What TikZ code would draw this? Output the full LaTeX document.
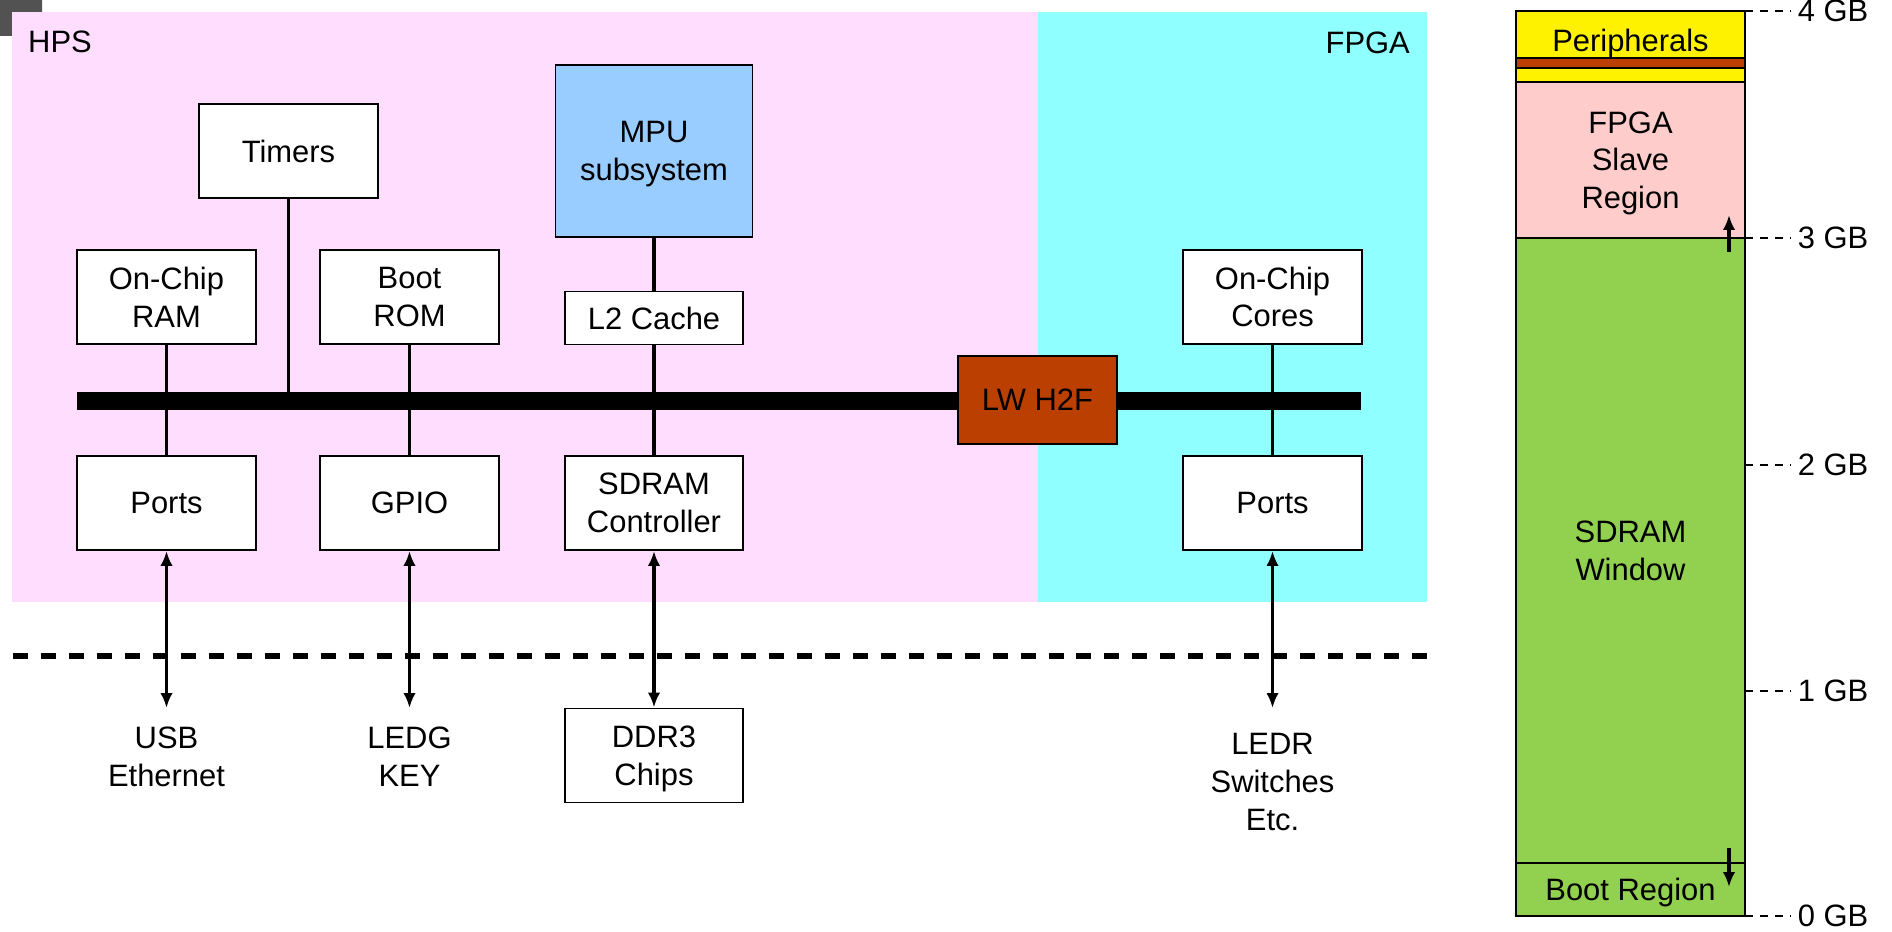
\documentclass[tikz,border=0pt]{standalone}
\usepackage{fontspec}
\setmainfont{Liberation Sans}
\usepackage{tikz}
\usetikzlibrary{arrows.meta,positioning}
\definecolor{hpspink}{RGB}{255,221,255}
\definecolor{fpgacyan}{RGB}{143,255,255}
\definecolor{mpublue}{RGB}{153,204,255}
\definecolor{bridgered}{RGB}{187,64,0}
\definecolor{slavepink}{RGB}{255,204,204}
\definecolor{sdramgreen}{RGB}{146,208,80}
\newcommand{\flatdp}[1]{\raisebox{0pt}[\height][0pt]{#1}}

\begin{document}
\begin{tikzpicture}[x=0.02cm, y=-0.02cm, >={Latex[length=0.3cm,width=0.25cm]},
    font=\fontsize{17.6}{21.5}\selectfont,
    blk/.style={draw, fill=white, line width=1.1pt, inner sep=0pt, align=center,
                minimum width=3.57cm, minimum height=1.88cm},
    wire/.style={line width=2pt},
    memreg/.style={draw, line width=1.1pt, inner sep=0pt, align=center, minimum width=4.58cm},
    gbtick/.style={line width=1.1pt, dash pattern=on 0.16cm off 0.14cm}]
  \useasboundingbox (0,0) rectangle (1892,932);
  \fill[black!68, rounded corners=0.3cm] (-20,-20) rectangle (42,36);
  % the two halves of the chip
  \fill[hpspink] (12,12) rectangle (1038,602);
  \fill[fpgacyan] (1038,12) rectangle (1427,602);
  \node[anchor=west] (hps) at (22,42) {HPS};
  \node[anchor=east] (fpga) at (1416,43) {FPGA};

  \node[fill=black, inner sep=0pt, minimum width=25.68cm, minimum height=0.36cm] (bus) at (719,401) {};

  \node[blk] (timers) at (288.5,151) {Timers};
  \node[blk, fill=mpublue, minimum width=3.94cm, minimum height=3.44cm] (mpu) at (654,151) {MPU\\\flatdp{subsystem}};
  \node[blk] (ram) at (166.5,297) {On-Chip\\RAM};
  \node[blk] (rom) at (409.5,297) {Boot\\ROM};
  \node[blk, minimum height=1.06cm] (l2) at (654,318) {L2 Cache};
  \node[blk] (cores) at (1272.5,297) {On-Chip\\Cores};
  \node[blk] (hpsports) at (166.5,503) {Ports};
  \node[blk] (gpio) at (409.5,503) {GPIO};
  \node[blk] (sdramctl) at (654,503) {SDRAM\\Controller};
  \node[blk] (fpgaports) at (1272.5,503) {Ports};
  \node[blk, fill=bridgered, minimum width=3.18cm, minimum height=1.76cm] (lwh2f) at (1037.5,400) {LW H2F};
  \node[blk] (ddr) at (654,755.5) {DDR3\\\flatdp{Chips}};

  \draw[wire] (timers.south) -- (timers.south |- bus.north);
  \draw[wire] (mpu.south) -- (l2.north);
  \draw[wire] (ram.south) -- (hpsports.north);
  \draw[wire] (rom.south) -- (gpio.north);
  \draw[wire] (l2.south) -- (sdramctl.north);
  \draw[wire] (cores.south) -- (fpgaports.north);

  % off-chip side
  \draw[line width=0.11cm, dash pattern=on 0.3cm off 0.26cm] (12.7,656) -- (1427,656);
  \coordinate (usbtip) at (166.5,708);
  \coordinate (ledgtip) at (409.5,708);
  \coordinate (ledrtip) at (1272.5,708);
  \node[below=7.5pt of usbtip, align=center] (usb) {USB\\Ethernet};
  \node[below=7.5pt of ledgtip, align=center] (ledg) {LEDG\\KEY};
  \node[below=11pt of ledrtip, align=center] (ledr) {LEDR\\Switches\\Etc.};
  \draw[wire, <->] (hpsports.south) -- (usbtip);
  \draw[wire, <->] (gpio.south) -- (ledgtip);
  \draw[wire, <->] (sdramctl.south) -- (ddr.north);
  \draw[wire, <->] (fpgaports.south) -- (ledrtip);

  % address map
  \node[memreg, fill=yellow, minimum height=0.94cm] (periph) at (1630.5,34.5) {\raisebox{-0.11cm}[\height][0pt]{Peripherals}};
  \node[memreg, fill=bridgered, minimum height=0.2cm] (lwband) at (1630.5,63) {};
  \node[memreg, fill=yellow, minimum height=0.28cm] (periphlow) at (1630.5,75) {};
  \node[memreg, fill=slavepink, minimum height=3.12cm] (slave) at (1630.5,160) {FPGA\\Slave\\\flatdp{Region}};
  \node[memreg, fill=sdramgreen, minimum height=12.5cm] (window) at (1630.5,550.5) {SDRAM\\Window};
  \node[memreg, fill=sdramgreen, minimum height=1.06cm] (boot) at (1630.5,889.5) {\flatdp{Boot Region}};
  \coordinate (slavefrom) at (1729,252);
  \coordinate (slaveto) at (1729,215);
  \coordinate (bootfrom) at (1729,848);
  \coordinate (bootto) at (1729,887);
  \draw[wire, ->] (slavefrom) -- (slaveto);
  \draw[wire, ->] (bootfrom) -- (bootto);
  \foreach \g/\y in {4/11,3/238,2/465,1/691,0/916}
    \draw[gbtick] (1745,\y) -- (1791,\y) node[right] (gb\g) {\g\ GB};
\end{tikzpicture}
\end{document}
